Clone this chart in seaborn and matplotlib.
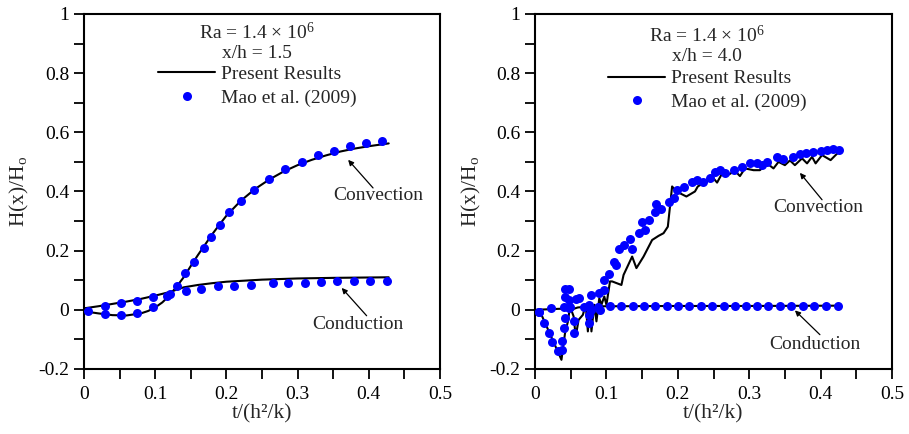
import numpy as np
import pandas as pd
import matplotlib
matplotlib.use("Agg")
import matplotlib.pyplot as plt
from matplotlib.lines import Line2D
from matplotlib.ticker import MultipleLocator, FuncFormatter
import seaborn as sns

# ---------------- data ----------------
# Left panel (x/h = 1.5)
L_conv_line_t = [0.0, 0.02, 0.04, 0.06, 0.08, 0.09, 0.10, 0.11, 0.12, 0.13, 0.14, 0.15, 0.16, 0.17,
                 0.18, 0.19, 0.20, 0.22, 0.24, 0.26, 0.28, 0.30, 0.32, 0.34, 0.36, 0.38, 0.40, 0.428]
L_conv_line_y = [-0.005, -0.012, -0.018, -0.019, -0.012, -0.004, 0.008, 0.025, 0.048, 0.078, 0.11, 0.148,
                 0.185, 0.22, 0.255, 0.287, 0.318, 0.368, 0.408, 0.44, 0.467, 0.489, 0.507, 0.522, 0.535,
                 0.545, 0.553, 0.5625]
L_cond_line_t = [0.0, 0.02, 0.04, 0.06, 0.08, 0.10, 0.12, 0.13, 0.14, 0.16, 0.18, 0.20, 0.25, 0.30, 0.35, 0.428]
L_cond_line_y = [0.005, 0.012, 0.02, 0.028, 0.037, 0.048, 0.060, 0.068, 0.076, 0.084, 0.090, 0.095, 0.102,
                 0.106, 0.108, 0.110]
L_conv_dot_t = [0.006, 0.030, 0.052, 0.074, 0.097, 0.121, 0.131, 0.142, 0.155, 0.168, 0.179, 0.191, 0.203,
                0.221, 0.239, 0.260, 0.282, 0.306, 0.328, 0.351, 0.373, 0.396, 0.419]
L_conv_dot_y = [-0.003, -0.015, -0.017, -0.011, 0.009, 0.054, 0.081, 0.124, 0.162, 0.208, 0.247, 0.287,
                0.330, 0.367, 0.405, 0.442, 0.475, 0.501, 0.522, 0.538, 0.553, 0.564, 0.570]
L_cond_dot_t = [0.030, 0.052, 0.074, 0.097, 0.116, 0.143, 0.165, 0.188, 0.211, 0.234, 0.266, 0.287, 0.310,
                0.333, 0.356, 0.379, 0.402, 0.425]
L_cond_dot_y = [0.013, 0.022, 0.030, 0.042, 0.048, 0.065, 0.072, 0.079, 0.082, 0.085, 0.092, 0.092, 0.092,
                0.094, 0.096, 0.096, 0.096, 0.096]

# Right panel (x/h = 4.0)
R_conv_line_t = [0.0, 0.007, 0.037, 0.042, 0.046, 0.049, 0.054, 0.057, 0.061, 0.067, 0.071, 0.074, 0.077,
                 0.079, 0.083, 0.086, 0.090, 0.093, 0.097, 0.100, 0.105, 0.108, 0.121, 0.124, 0.136, 0.142,
                 0.152, 0.164, 0.173, 0.180, 0.186, 0.192, 0.198, 0.212, 0.224, 0.228, 0.235, 0.241, 0.248,
                 0.255, 0.262, 0.272, 0.280, 0.287, 0.294, 0.306, 0.315, 0.325, 0.334, 0.341, 0.350, 0.357,
                 0.364, 0.374, 0.381, 0.388, 0.393, 0.402, 0.414, 0.421, 0.426]
R_conv_line_y = [0.0, -0.006, -0.169, -0.079, -0.040, 0.011, -0.022, -0.090, -0.034, -0.017, 0.017, -0.073,
                 0.011, -0.073, 0.017, -0.039, 0.039, 0.017, 0.045, 0.017, 0.096, 0.096, 0.084, 0.118,
                 0.180, 0.141, 0.180, 0.236, 0.250, 0.259, 0.281, 0.417, 0.400, 0.383, 0.400, 0.417, 0.427,
                 0.433, 0.450, 0.430, 0.461, 0.458, 0.470, 0.452, 0.478, 0.472, 0.472, 0.495, 0.478, 0.500,
                 0.489, 0.505, 0.489, 0.512, 0.495, 0.517, 0.495, 0.523, 0.506, 0.523, 0.534]
R_cond_line_t = [0.0, 0.02, 0.04, 0.05, 0.06, 0.07, 0.08, 0.09, 0.10, 0.20, 0.30, 0.426]
R_cond_line_y = [0.0, 0.002, 0.004, 0.0, 0.008, 0.010, 0.0, 0.012, 0.012, 0.013, 0.013, 0.014]
R_conv_dot_t = [0.006, 0.013, 0.019, 0.024, 0.032, 0.038, 0.038, 0.040, 0.042, 0.042, 0.047, 0.042, 0.047,
                0.048, 0.054, 0.055, 0.061, 0.075, 0.076, 0.075, 0.079, 0.089, 0.091, 0.096, 0.097, 0.104,
                0.110, 0.114, 0.117, 0.124, 0.133, 0.136, 0.145, 0.150, 0.154, 0.159, 0.168, 0.170, 0.177,
                0.187, 0.194, 0.199, 0.209, 0.220, 0.227, 0.235, 0.245, 0.252, 0.259, 0.266, 0.278, 0.290,
                0.301, 0.311, 0.318, 0.325, 0.339, 0.348, 0.362, 0.371, 0.379, 0.390, 0.400, 0.409, 0.418,
                0.426]
R_conv_dot_y = [-0.006, -0.043, -0.079, -0.110, -0.138, -0.137, -0.107, -0.062, -0.028, 0.045, 0.070, 0.070,
                0.034, 0.006, -0.039, -0.079, 0.039, 0.017, -0.017, -0.045, 0.050, 0.056, 0.000, 0.067,
                0.101, 0.121, 0.163, 0.150, 0.205, 0.219, 0.238, 0.205, 0.259, 0.298, 0.270, 0.304, 0.332,
                0.358, 0.340, 0.366, 0.377, 0.405, 0.414, 0.433, 0.439, 0.433, 0.444, 0.467, 0.472, 0.461,
                0.472, 0.484, 0.495, 0.497, 0.489, 0.500, 0.517, 0.511, 0.517, 0.526, 0.531, 0.534, 0.538,
                0.540, 0.542, 0.540]
R_cond_dot_t = [0.006, 0.023, 0.040, 0.049, 0.058, 0.069, 0.078, 0.088, 0.105, 0.121, 0.137, 0.153, 0.1685,
                0.1845, 0.200, 0.216, 0.232, 0.248, 0.264, 0.280, 0.296, 0.311, 0.327, 0.343, 0.359, 0.375,
                0.391, 0.407, 0.424]
R_cond_dot_y = [-0.006, 0.006, 0.010, 0.011, 0.036, 0.009, 0.000, 0.008, 0.0135, 0.0135, 0.0135, 0.0135,
                0.0135, 0.0135, 0.0135, 0.0135, 0.0135, 0.0135, 0.0135, 0.0135, 0.0135, 0.0135, 0.0135,
                0.0135, 0.0135, 0.0135, 0.0135, 0.0135, 0.0135]

legend_labels = ["Present Results", "Mao et al. (2009)"]
panel_titles = ["x/h = 1.5", "x/h = 4.0"]
ra_text = "Ra = 1.4 \u00d7 10$^{6}$"
x_label = "t/(h\u00b2/k)"
y_label = "H(x)/H$_{\\rm o}$"

# ---------------- style ----------------
sns.set_theme(style="ticks")
plt.rcParams["font.family"] = ["Liberation Serif", "DejaVu Serif"]
plt.rcParams["mathtext.fontset"] = "custom"
plt.rcParams["mathtext.rm"] = "Liberation Serif"
plt.rcParams["mathtext.it"] = "Liberation Serif:italic"
FS = 14
FS_LAB = 15.5
BLUE = "#0000FF"

fig = plt.figure(figsize=(9.09, 4.34), dpi=100)
axL = fig.add_axes([0.0924, 0.1498, 0.3916, 0.818])
axR = fig.add_axes([0.5886, 0.1498, 0.3927, 0.818])

panels = [
    (axL, L_conv_line_t, L_conv_line_y, L_cond_line_t, L_cond_line_y,
     L_conv_dot_t, L_conv_dot_y, L_cond_dot_t, L_cond_dot_y),
    (axR, R_conv_line_t, R_conv_line_y, R_cond_line_t, R_cond_line_y,
     R_conv_dot_t, R_conv_dot_y, R_cond_dot_t, R_cond_dot_y),
]

for (ax, clt, cly, dlt, dly, cdt, cdy, ddt, ddy) in panels:
    df_l1 = pd.DataFrame({"t": clt, "H": cly})
    df_l2 = pd.DataFrame({"t": dlt, "H": dly})
    df_d1 = pd.DataFrame({"t": cdt, "H": cdy})
    df_d2 = pd.DataFrame({"t": ddt, "H": ddy})
    for d in (df_l1, df_l2):
        sns.lineplot(data=d, x="t", y="H", ax=ax, color="black", lw=1.5,
                     sort=False, estimator=None, zorder=2)
    for d in (df_d1, df_d2):
        sns.scatterplot(data=d, x="t", y="H", ax=ax, color=BLUE, s=42,
                        linewidth=0, zorder=3)
    ax.set_xlim(0, 0.5)
    ax.set_ylim(-0.2, 1.0)
    ax.xaxis.set_major_locator(MultipleLocator(0.1))
    ax.xaxis.set_minor_locator(MultipleLocator(0.05))
    ax.yaxis.set_major_locator(MultipleLocator(0.2))
    ax.yaxis.set_minor_locator(MultipleLocator(0.1))
    fmt = FuncFormatter(lambda v, p: "0" if abs(v) < 1e-9 else ("%g" % round(v, 3)))
    ax.xaxis.set_major_formatter(fmt)
    ax.yaxis.set_major_formatter(fmt)
    ax.tick_params(which="both", direction="out", length=7, width=1.3, colors="black",
                   labelsize=FS, top=False, right=False)
    ax.tick_params(axis="x", which="major", pad=5)
    for s in ax.spines.values():
        s.set_visible(True)
        s.set_linewidth(1.5)
        s.set_color("black")
    ax.set_xlabel(x_label, fontsize=FS_LAB, labelpad=1)
    ax.set_ylabel(y_label, fontsize=FS_LAB, labelpad=5)
    ax.set_facecolor("white")

# header texts
axL.text(0.243, 0.936, ra_text, fontsize=FS, ha="center", va="center")
axL.text(0.243, 0.868, panel_titles[0], fontsize=FS, ha="center", va="center")
axR.text(0.241, 0.926, ra_text, fontsize=FS, ha="center", va="center")
axR.text(0.241, 0.855, panel_titles[1], fontsize=FS, ha="center", va="center")

handles = [Line2D([], [], color="black", lw=1.5),
           Line2D([], [], color=BLUE, marker="o", ls="", markersize=6.5, markeredgewidth=0)]
for ax, bx, by in [(axL, 0.208, 0.855), (axR, 0.2045, 0.843)]:
    ax.legend(handles, legend_labels, loc="upper left", bbox_to_anchor=(bx, by),
              frameon=False, fontsize=FS, handlelength=2.95, handletextpad=0.3,
              labelspacing=0.3, borderpad=0, borderaxespad=0)

arrow_kw = dict(arrowstyle="-|>", color="black", lw=0.9, mutation_scale=8, shrinkA=0, shrinkB=0)
axL.annotate("", xy=(0.371, 0.507), xytext=(0.406, 0.412), arrowprops=arrow_kw)
axL.text(0.413, 0.385, "Convection", fontsize=FS, ha="center", va="center")
axL.annotate("", xy=(0.362, 0.074), xytext=(0.397, -0.02), arrowprops=arrow_kw)
axL.text(0.385, -0.05, "Conduction", fontsize=FS, ha="center", va="center")

axR.annotate("", xy=(0.371, 0.463), xytext=(0.402, 0.372), arrowprops=arrow_kw)
axR.text(0.396, 0.345, "Convection", fontsize=FS, ha="center", va="center")
axR.annotate("", xy=(0.364, -0.002), xytext=(0.399, -0.084), arrowprops=arrow_kw)
axR.text(0.392, -0.118, "Conduction", fontsize=FS, ha="center", va="center")

fig.savefig("out.png", dpi=100, facecolor="white")
